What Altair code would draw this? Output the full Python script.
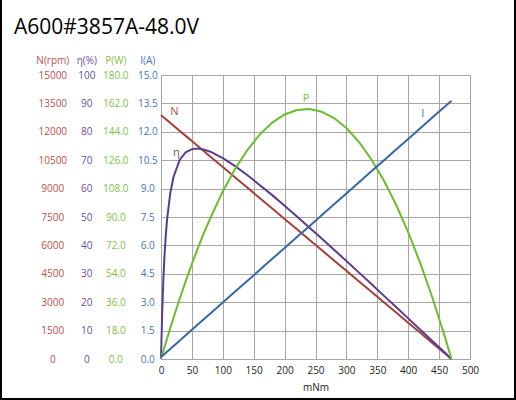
import altair as alt
import pandas as pd

FONT = "Open Sans"

# Motor characteristic curves versus load torque (mNm)
torque = [0, 2, 4, 6, 8, 10, 15, 20, 30, 40, 50, 60, 70, 80, 100, 120, 140, 160, 180,
          200, 220, 240, 260, 280, 300, 320, 340, 360, 380, 400, 420, 440, 460, 470]
speed = [12880, 12825, 12770, 12716, 12661, 12606, 12469, 12332, 12058, 11784, 11510,
         11236, 10962, 10688, 10140, 9591, 9043, 8495, 7947, 7399, 6851, 6303, 5755,
         5207, 4659, 4111, 3563, 3015, 2466, 1918, 1370, 822, 274, 0]
efficiency = [0, 17.1, 29.0, 37.7, 44.3, 49.5, 58.4, 63.9, 70.0, 72.8, 73.9, 74.1, 73.7,
              73.0, 70.7, 67.9, 64.7, 61.2, 57.7, 54.0, 50.2, 46.3, 42.4, 38.5, 34.5,
              30.5, 26.5, 22.4, 18.4, 14.3, 10.2, 6.2, 2.1, 0]
power = [0, 2.7, 5.4, 8.0, 10.6, 13.2, 19.6, 25.8, 37.9, 49.4, 60.3, 70.6, 80.4, 89.5,
         106.2, 120.5, 132.6, 142.3, 149.8, 155.0, 157.8, 158.4, 156.7, 152.7, 146.4,
         137.7, 126.8, 113.6, 98.1, 80.4, 60.3, 37.9, 13.2, 0]
current = [0.10, 0.16, 0.22, 0.27, 0.33, 0.39, 0.53, 0.68, 0.96, 1.25, 1.54, 1.83, 2.12,
           2.40, 2.98, 3.56, 4.13, 4.71, 5.29, 5.86, 6.44, 7.01, 7.59, 8.17, 8.74, 9.32,
           9.90, 10.47, 11.05, 11.62, 12.20, 12.78, 13.35, 13.64]

# Curve name tags: (torque, value on the curve's own axis)
tag_names = ["N", "η", "P", "I"]
tag_torque = [21.6, 24.8, 234.7, 423.5]
tag_value = [13060, 72.4, 165.0, 12.95]

TITLE = "A600#3857A-48.0V"

x_ticks = list(range(0, 501, 50))
n_ticks = [i * 1500 for i in range(11)]
eta_ticks = [i * 10 for i in range(11)]
p_ticks = [i * 18 for i in range(11)]
i_ticks = [i * 1.5 for i in range(11)]

curves = pd.DataFrame({"torque": torque, "speed": speed, "efficiency": efficiency,
                       "power": power, "current": current})

GRID = "#a6a6a6"

x_enc = alt.X(
    "torque:Q",
    scale=alt.Scale(domain=[0, 500], nice=False),
    axis=alt.Axis(values=x_ticks, title="mNm", grid=True, gridColor=GRID,
                  ticks=False, domain=False, labelFlush=False, labelPadding=6,
                  labelFont=FONT, labelFontSize=10, labelColor="#222222",
                  titleFont=FONT, titleFontSize=10, titleFontWeight="normal",
                  titleColor="#222222", titleY=28, titleBaseline="middle"),
)


def y_axis(title, color, dist, values, fmt, grid=False):
    return alt.Axis(values=values, format=fmt, orient="left", offset=0, grid=grid,
                    gridColor=GRID, ticks=False, tickSize=0, domain=False,
                    labelPadding=dist, labelAlign="center", labelBaseline="middle",
                    labelColor=color, labelFont=FONT, labelFontSize=10,
                    title=title, titleAngle=0, titleX=-dist, titleY=-15,
                    titleAlign="center", titleBaseline="middle", titleColor=color,
                    titleFont=FONT, titleFontSize=10, titleFontWeight="normal")


series = [
    # field, tag, axis title, line colour, text colour, label distance, domain, ticks, format, grid
    ("speed", "N", "N(rpm)", "#a53f3b", "#b9504c", 108.7, [0, 15000], n_ticks, "d", False),
    ("efficiency", "η", "η(%)", "#5b3c8e", "#6b4f9b", 74.7, [0, 100], eta_ticks, "d", False),
    ("power", "P", "P(W)", "#6cbd2e", "#7cc23f", 45.7, [0, 180], p_ticks, ".1f", False),
    ("current", "I", "I(A)", "#3767a8", "#4472c0", 13.7, [0, 15], i_ticks, ".1f", True),
]

layers = []
for field, tag, title, line_color, text_color, dist, dom, ticks, fmt, grid in series:
    k = tag_names.index(tag)
    axis = y_axis(title, text_color, dist, ticks, fmt, grid)
    scale = alt.Scale(domain=dom, nice=False)
    line = alt.Chart(curves).mark_line(color=line_color, strokeWidth=2).encode(
        x=x_enc,
        y=alt.Y(f"{field}:Q", scale=scale, axis=axis),
    )
    tag_df = pd.DataFrame({"torque": [tag_torque[k]], field: [tag_value[k]],
                           "name": [tag]})
    label = alt.Chart(tag_df).mark_text(
        color=text_color, font=FONT, fontSize=11, align="center", baseline="middle"
    ).encode(
        x=x_enc,
        y=alt.Y(f"{field}:Q", scale=scale, axis=axis),
        text="name:N",
    )
    layers.append(alt.layer(line, label))

one_row = pd.DataFrame({"k": [0]})

# Heading in the top-left corner
heading = alt.Chart(one_row).mark_text(
    font=FONT, fontSize=21, color="#000000", align="left", baseline="alphabetic"
).encode(x=alt.value(-147), y=alt.value(-41), text=alt.value(TITLE))

# Outer frame lines of the figure
frame_left = alt.Chart(one_row).mark_rule(color="black", strokeWidth=2).encode(
    x=alt.value(-160), y=alt.value(-75), y2=alt.value(325))
frame_right = alt.Chart(one_row).mark_rule(color="black", strokeWidth=2).encode(
    x=alt.value(354), y=alt.value(-75), y2=alt.value(325))
frame_bottom = alt.Chart(one_row).mark_rule(color="black", strokeWidth=2).encode(
    x=alt.value(-161), x2=alt.value(355), y=alt.value(324))

chart = alt.layer(*layers, heading, frame_left, frame_right, frame_bottom).resolve_scale(
    y="independent"
).properties(
    width=309,
    height=284,
    autosize=alt.AutoSizeParams(type="none"),
    padding={"left": 161, "top": 75, "right": 46, "bottom": 41},
    background="white",
).configure_view(stroke=GRID, strokeWidth=1)

chart.save("out.html", embed_options={"renderer": "svg", "actions": False})
